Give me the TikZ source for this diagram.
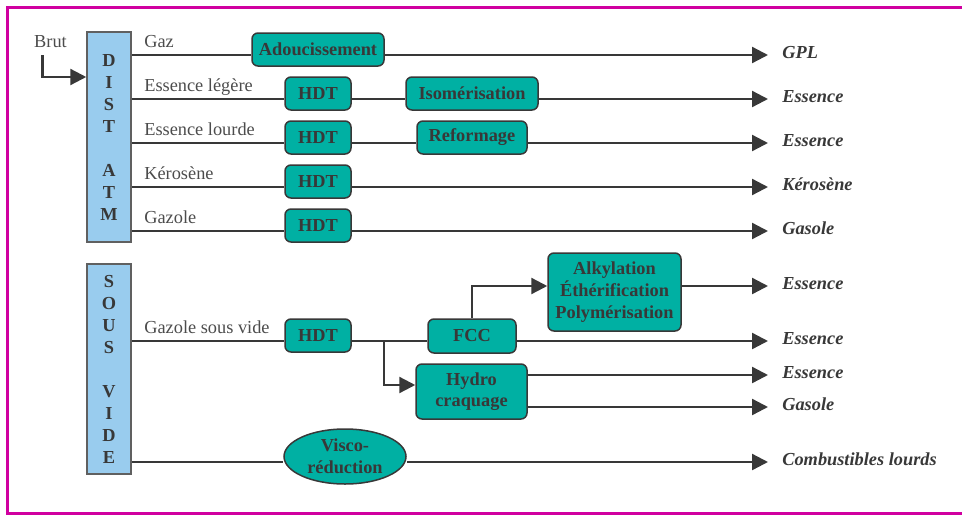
\documentclass[tikz,border=0pt]{standalone}
\usepackage{fontspec}
\setmainfont{Liberation Serif}
\usepackage{tikz}
\usetikzlibrary{arrows.meta,shapes.geometric,positioning}
\definecolor{unitfill}{RGB}{0,176,163}
\definecolor{towerfill}{RGB}{153,204,238}
\definecolor{framepink}{RGB}{208,0,160}
\definecolor{pipegray}{RGB}{56,56,56}
\tikzstyle{tower}=[draw=pipegray!80,fill=towerfill,line width=0.9pt,minimum width=26.4pt,minimum height=126pt,inner sep=0pt,align=center,text=pipegray,font=\bfseries\fontsize{11}{13.2}\selectfont]
\tikzstyle{unit}=[draw=pipegray,fill=unitfill,rounded corners=3.6pt,line width=0.9pt,minimum height=19.8pt,inner sep=0pt,align=center,text=pipegray,font=\bfseries\fontsize{11}{13}\selectfont]
\tikzstyle{cut}=[anchor=base west,inner sep=0pt,text=pipegray!90,font=\fontsize{11}{13}\selectfont]
\tikzstyle{product}=[anchor=base west,inner xsep=8.4pt,inner ysep=0pt,text=pipegray,font=\bfseries\itshape\fontsize{11}{13}\selectfont]
\tikzstyle{stream}=[draw=pipegray,line width=1.4pt]
\tikzstyle{flow}=[stream,-{Triangle[length=9.6pt,width=9.6pt]}]

\begin{document}
\begin{tikzpicture}[x=0.6pt,y=-0.6pt]
\useasboundingbox (0,0) rectangle (962,515);
\draw [framepink,line width=1.8pt] (980,7.5) -- (7.5,7.5) -- (7.5,513.5) -- (980,513.5);

% colonnes
\node [tower] (atm) at (109,137) {D\\I\\S\\T\\[13.2pt]A\\T\\M};
\node [tower] (vide) at (109,369) {S\\O\\U\\S\\[13.2pt]V\\I\\D\\E};
\node [cut,anchor=base] (brut) at (50.5,47) {Brut};
\coordinate (feed) at (42.5,55);
\draw [flow] (feed) |- (atm.west |- 0,77);

% niveaux des soutirages
\coordinate (r1) at (0,55);
\coordinate (r2) at (0,99);
\coordinate (r3) at (0,143);
\coordinate (r4) at (0,187);
\coordinate (r5) at (0,231);
\coordinate (ra) at (0,286);
\coordinate (rg) at (0,341);
\coordinate (rh1) at (0,375);
\coordinate (rb) at (0,385);
\coordinate (rh2) at (0,407);
\coordinate (rv) at (0,462);

% unites
\node [unit,minimum width=79.2pt] (adou) at (318,49.5) {Adoucissement};
\node [unit,minimum width=39.6pt] (hdt1) at (318,93.5) {HDT};
\node [unit,minimum width=79.2pt] (iso) at (472,93.5) {Isomérisation};
\node [unit,minimum width=39.6pt] (hdt2) at (318,137.5) {HDT};
\node [unit,minimum width=66pt] (refo) at (472,137.5) {Reformage};
\node [unit,minimum width=39.6pt] (hdt3) at (318,181.5) {HDT};
\node [unit,minimum width=39.6pt] (hdt4) at (318,225.5) {HDT};
\node [unit,minimum width=39.6pt] (hdt5) at (318,335.5) {HDT};
\node [unit,minimum width=52.8pt,minimum height=20.4pt] (fcc) at (472,336) {FCC};
\node [unit,minimum width=79.8pt,minimum height=46.8pt] (alky) at (614.5,292) {Alkylation\\Éthérification\\Polymérisation};
\node [unit,minimum width=66.6pt,minimum height=33pt] (hydro) at (471.5,391.5) {Hydro\\craquage};
\node [unit,ellipse,sharp corners,minimum width=73.2pt,minimum height=33pt] (visco) at (345,456.5) {Visco-\\réduction};

% coupes
\node [cut] (gaz) at (144,47) {Gaz};
\node [cut] (essleg) at (144,91) {Essence légère};
\node [cut] (esslou) at (144,135) {Essence lourde};
\node [cut] (kero) at (144,179) {Kérosène};
\node [cut] (gazole) at (144,223) {Gazole};
\node [cut] (gsv) at (144,333) {Gazole sous vide};

% produits
\node [product] (gpl) at (768,58) {GPL};
\node [product] (ess1) at (768,102) {Essence};
\node [product] (ess2) at (768,146) {Essence};
\node [product] (kerop) at (768,190) {Kérosène};
\node [product] (gas1) at (768,234) {Gasole};
\node [product] (ess3) at (768,289) {Essence};
\node [product] (ess4) at (768,344) {Essence};
\node [product] (ess5) at (768,378) {Essence};
\node [product] (gas2) at (768,410) {Gasole};
\node [product] (lourds) at (768,465) {Combustibles lourds};

% distillation atmospherique
\draw [stream] (atm.east |- r1) -- (adou.west |- r1);
\draw [flow] (adou.east |- r1) -- (gpl.west |- r1);
\draw [stream] (atm.east |- r2) -- (hdt1.west |- r2);
\draw [stream] (hdt1.east |- r2) -- (iso.west |- r2);
\draw [flow] (iso.east |- r2) -- (ess1.west |- r2);
\draw [stream] (atm.east |- r3) -- (hdt2.west |- r3);
\draw [stream] (hdt2.east |- r3) -- (refo.west |- r3);
\draw [flow] (refo.east |- r3) -- (ess2.west |- r3);
\draw [stream] (atm.east |- r4) -- (hdt3.west |- r4);
\draw [flow] (hdt3.east |- r4) -- (kerop.west |- r4);
\draw [stream] (atm.east |- r5) -- (hdt4.west |- r5);
\draw [flow] (hdt4.east |- r5) -- (gas1.west |- r5);

% distillation sous vide
\draw [stream] (vide.east |- rg) -- (hdt5.west |- rg);
\draw [stream] (hdt5.east |- rg) -- (fcc.west |- rg);
\draw [flow] (fcc.east |- rg) -- (ess4.west |- rg);
\coordinate (split) at (384,341);
\draw [flow] (split) |- (hydro.west |- rb);
\draw [flow] (fcc.north) |- (alky.west |- ra);
\draw [flow] (alky.east |- ra) -- (ess3.west |- ra);
\draw [flow] (hydro.east |- rh1) -- (ess5.west |- rh1);
\draw [flow] (hydro.east |- rh2) -- (gas2.west |- rh2);
\draw [stream] (vide.east |- rv) -- (visco.west |- rv);
\draw [flow] (visco.east |- rv) -- (lourds.west |- rv);
\end{tikzpicture}
\end{document}
